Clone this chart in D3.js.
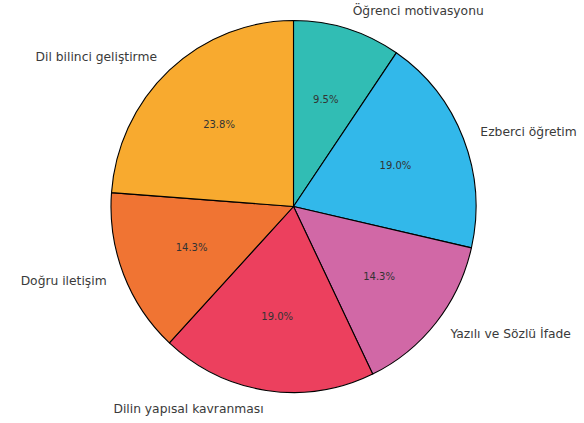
<!DOCTYPE html>
<html><head><meta charset="utf-8">
<script src="https://cdn.jsdelivr.net/npm/d3@7"></script>
<style>body{margin:0;background:#fff}svg{display:block}</style>
</head><body>
<script>
const categories = ["Öğrenci motivasyonu","Ezberci öğretim","Yazılı ve Sözlü İfade","Dilin yapısal kavranması","Doğru iletişim","Dil bilinci geliştirme"];
const values = [2,4,3,4,3,5];
const colors = ["#31BDB4","#32B8EA","#D168A6","#EC405E","#F07433","#F8AA2F"];

const W=584,H=423, cx=293.5, cy=206.5, rx=182.5, ry=186;
const svg=d3.select("body").append("svg").attr("width",W).attr("height",H);
const total=d3.sum(values);
const pie=d3.pie().sort(null).value(d=>d).startAngle(0).endAngle(2*Math.PI);
const arcs=pie(values);
const arc=d3.arc().innerRadius(0).outerRadius(ry);
const g=svg.append("g").attr("transform",`translate(${cx},${cy})`);
g.append("g").attr("transform",`scale(${rx/ry},1)`).selectAll("path").data(arcs).join("path")
  .attr("d",arc).attr("fill",(d,i)=>colors[i]).attr("stroke","#000").attr("stroke-width",1.1)
  .attr("vector-effect","non-scaling-stroke").attr("stroke-linejoin","round");
const fmt=v=>(v/total*100).toFixed(1)+"%";
arcs.forEach((d,i)=>{
  const a=(d.startAngle+d.endAngle)/2;
  const sx=Math.sin(a), sy=-Math.cos(a);
  g.append("text").attr("x",sx*0.6*rx).attr("y",sy*0.6*ry)
    .attr("text-anchor","middle").attr("dominant-baseline","central")
    .attr("font-family","DejaVu Sans").attr("font-size",10).attr("fill","#333")
    .text(fmt(d.value));
  g.append("text").attr("x",sx*1.1*rx).attr("y",sy*1.1*ry)
    .attr("text-anchor",sx>0?"start":"end").attr("dominant-baseline","central")
    .attr("font-family","DejaVu Sans").attr("font-size",12.3).attr("fill","#3a3a3a")
    .text(categories[i]);
});
</script>
</body></html>
